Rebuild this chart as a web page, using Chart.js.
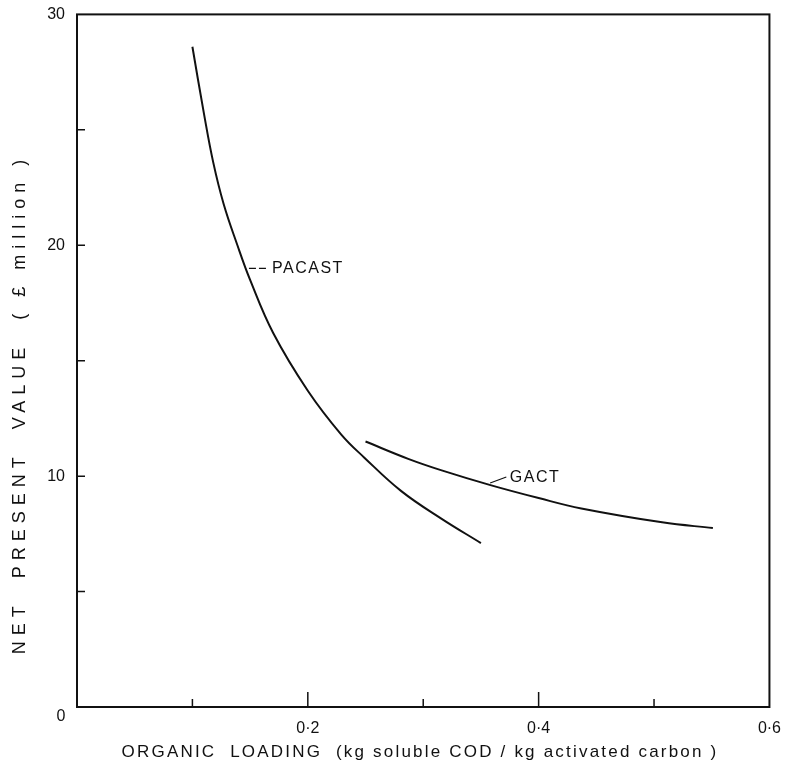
<!DOCTYPE html>
<html>
<head>
<meta charset="utf-8">
<script src="https://cdn.jsdelivr.net/npm/chart.js@4.4.1/dist/chart.umd.min.js"></script>
<style>
  body { margin: 0; background: #fff; }
</style>
</head>
<body>
<canvas id="npvChart" width="785" height="767"></canvas>
<script>
// ---- data ----
const pacastX = [0.100, 0.110, 0.118, 0.127, 0.139, 0.150, 0.170, 0.200, 0.229, 0.249, 0.281, 0.316, 0.350];
const pacastY = [28.6, 25.7, 23.6, 21.8, 20.0, 18.5, 16.2, 13.7, 11.8, 10.8, 9.35, 8.15, 7.1];

const gactX = [0.250, 0.287, 0.316, 0.359, 0.400, 0.437, 0.507, 0.551];
const gactY = [11.5, 10.75, 10.25, 9.6, 9.05, 8.6, 8.0, 7.75];

const xTickValues = [0, 0.2, 0.4, 0.6];
const xTickLabels = ['0', '0·2', '0·4', '0·6'];
const xMinorTicks = [0.1, 0.3, 0.5];
const yTickValues = [0, 10, 20, 30];
const yTickLabels = ['0', '10', '20', '30'];
const yMinorTicks = [5, 15, 25];

const xTitle = 'ORGANIC  LOADING  (kg soluble COD / kg activated carbon )';
const yTitle = 'NET  PRESENT  VALUE  ( £ million )';

const FONT = '"Liberation Sans", Arial, sans-serif';
const INK = '#111';

function toPoints(xs, ys) {
    return xs.map((x, i) => ({ x: x, y: ys[i] }));
}

function findLabel(values, labels, v) {
    const i = values.findIndex(t => Math.abs(t - v) < 1e-9);
    return i > 0 ? labels[i] : '';
}

// frame, inward ticks, corner zero, axis titles, curve labels
const decorations = {
    id: 'decorations',
    afterDraw(chart) {
        const { ctx, chartArea: a, scales: { x, y } } = chart;
        ctx.save();
        ctx.strokeStyle = INK;
        ctx.fillStyle = INK;

        // box
        ctx.lineWidth = 2;
        ctx.strokeRect(a.left, a.top, a.right - a.left, a.bottom - a.top);

        // inward ticks
        ctx.lineWidth = 1.5;
        ctx.beginPath();
        xTickValues.slice(1, -1).forEach(v => {
            const px = x.getPixelForValue(v);
            ctx.moveTo(px, a.bottom); ctx.lineTo(px, a.bottom - 15);
        });
        xMinorTicks.forEach(v => {
            const px = x.getPixelForValue(v);
            ctx.moveTo(px, a.bottom); ctx.lineTo(px, a.bottom - 8);
        });
        yTickValues.slice(1, -1).concat(yMinorTicks).forEach(v => {
            const py = y.getPixelForValue(v);
            ctx.moveTo(a.left, py); ctx.lineTo(a.left + 8, py);
        });
        ctx.stroke();

        // shared zero at the corner
        ctx.font = '16px ' + FONT;
        ctx.textAlign = 'center';
        ctx.textBaseline = 'middle';
        ctx.fillText(xTickLabels[0], a.left - 16, a.bottom + 10);

        // axis titles
        ctx.font = '17px ' + FONT;
        ctx.letterSpacing = '2.2px';
        ctx.fillText(xTitle, 420, 752);
        ctx.save();
        ctx.translate(20, 404);
        ctx.rotate(-Math.PI / 2);
        ctx.font = '18px ' + FONT;
        ctx.letterSpacing = '6px';
        ctx.fillText(yTitle, 0, 0);
        ctx.restore();

        // curve labels with leaders
        ctx.font = '16px ' + FONT;
        ctx.letterSpacing = '1.5px';
        ctx.textAlign = 'left';
        ctx.lineWidth = 1.2;

        ctx.setLineDash([7, 3]);
        ctx.beginPath();
        ctx.moveTo(x.getPixelForValue(0.149), y.getPixelForValue(19.0));
        ctx.lineTo(x.getPixelForValue(0.166), y.getPixelForValue(19.0));
        ctx.stroke();
        ctx.setLineDash([]);
        ctx.fillText('PACAST', x.getPixelForValue(0.169), y.getPixelForValue(18.98));

        ctx.beginPath();
        ctx.moveTo(x.getPixelForValue(0.358), y.getPixelForValue(9.7));
        ctx.lineTo(x.getPixelForValue(0.372), y.getPixelForValue(9.96));
        ctx.stroke();
        ctx.fillText('GACT', x.getPixelForValue(0.375), y.getPixelForValue(9.95));

        ctx.restore();
    }
};

const lineStyle = {
    borderColor: INK,
    borderWidth: 2,
    pointRadius: 0,
    tension: 0.4,
    fill: false
};

new Chart(document.getElementById('npvChart'), {
    type: 'line',
    data: {
        datasets: [
            Object.assign({ label: 'PACAST', data: toPoints(pacastX, pacastY) }, lineStyle),
            Object.assign({ label: 'GACT', data: toPoints(gactX, gactY) }, lineStyle)
        ]
    },
    options: {
        responsive: false,
        animation: false,
        layout: { padding: { left: 0, right: 11, top: 14, bottom: 0 } },
        plugins: {
            legend: { display: false },
            tooltip: { enabled: false }
        },
        scales: {
            x: {
                type: 'linear',
                min: 0,
                max: 0.6,
                grid: { display: false },
                border: { display: false },
                afterFit(scale) { scale.height = 60; },
                ticks: {
                    stepSize: 0.1,
                    autoSkip: false,
                    maxRotation: 0,
                    padding: 4,
                    color: INK,
                    font: { family: FONT, size: 16 },
                    callback: v => findLabel(xTickValues, xTickLabels, v)
                }
            },
            y: {
                type: 'linear',
                min: 0,
                max: 30,
                grid: { display: false, drawTicks: false },
                border: { display: false },
                afterFit(scale) { scale.width = 77; },
                ticks: {
                    stepSize: 5,
                    autoSkip: false,
                    padding: 12,
                    color: INK,
                    font: { family: FONT, size: 16, lineHeight: 0.3 },
                    callback: v => findLabel(yTickValues, yTickLabels, v)
                }
            }
        }
    },
    plugins: [decorations]
});
</script>
</body>
</html>
